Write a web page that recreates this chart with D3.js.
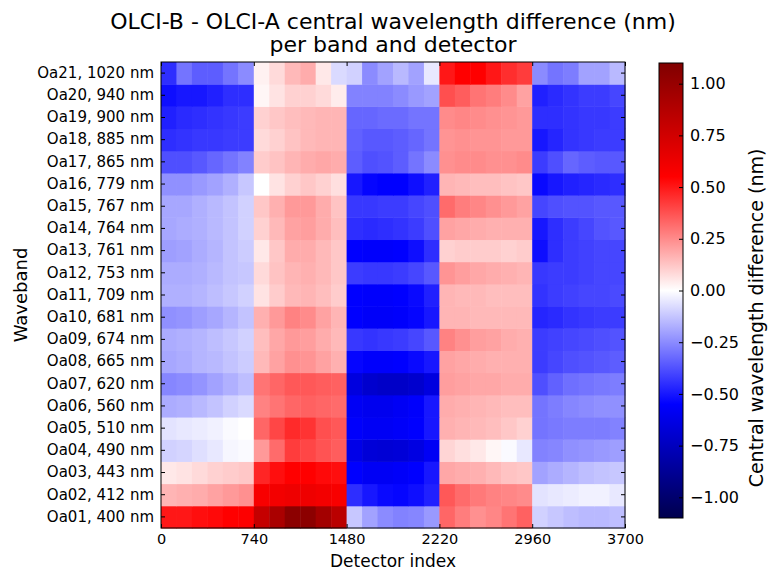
<!DOCTYPE html>
<html>
<head>
<meta charset="utf-8">
<script src="https://cdn.jsdelivr.net/npm/d3@7"></script>
<style>
  body { margin: 0; background: #fff; }
  text { font-family: "DejaVu Sans", sans-serif; fill: #000; }
</style>
</head>
<body>
<script>
// band labels, bottom (Oa01) to top (Oa21)
var bands = ["Oa01, 400 nm", "Oa02, 412 nm", "Oa03, 443 nm", "Oa04, 490 nm", "Oa05, 510 nm",
  "Oa06, 560 nm", "Oa07, 620 nm", "Oa08, 665 nm", "Oa09, 674 nm", "Oa10, 681 nm",
  "Oa11, 709 nm", "Oa12, 753 nm", "Oa13, 761 nm", "Oa14, 764 nm", "Oa15, 767 nm",
  "Oa16, 779 nm", "Oa17, 865 nm", "Oa18, 885 nm", "Oa19, 900 nm", "Oa20, 940 nm",
  "Oa21, 1020 nm"];
var xTicks = [0, 740, 1480, 2220, 2960, 3700];
var cbTicks = [-1.0, -0.75, -0.5, -0.25, 0, 0.25, 0.5, 0.75, 1.0];
var nDetectors = 3700;
var binsPerCamera = 6;

// difference (nm), 5 cameras x 6 detector bins per band, same order as bands
var diff = [
  [0.5,0.5,0.52,0.53,0.55,0.56, 0.8,0.92,1.05,1.05,0.95,0.85, -0.12,-0.2,-0.25,-0.27,-0.26,-0.22, 0.33,0.28,0.24,0.26,0.3,0.34, -0.1,-0.12,-0.14,-0.15,-0.15,-0.14],
  [0.16,0.17,0.18,0.2,0.22,0.24, 0.58,0.6,0.62,0.62,0.6,0.58, -0.45,-0.5,-0.53,-0.54,-0.52,-0.48, 0.36,0.32,0.29,0.27,0.26,0.25, -0.06,-0.05,-0.04,-0.03,-0.03,-0.05],
  [0.05,0.06,0.08,0.1,0.11,0.12, 0.47,0.52,0.55,0.55,0.53,0.52, -0.55,-0.58,-0.58,-0.57,-0.55,-0.5, 0.19,0.18,0.17,0.15,0.13,0.12, -0.2,-0.18,-0.16,-0.14,-0.13,-0.12],
  [-0.1,-0.09,-0.07,-0.05,-0.02,-0.01, 0.22,0.32,0.42,0.4,0.37,0.35, -0.62,-0.67,-0.68,-0.67,-0.64,-0.58, 0.09,0.07,0.05,0.02,-0.01,-0.05, -0.27,-0.26,-0.24,-0.23,-0.22,-0.21],
  [-0.06,-0.05,-0.04,-0.03,-0.01,0.0, 0.33,0.4,0.46,0.44,0.38,0.36, -0.56,-0.58,-0.58,-0.57,-0.55,-0.5, 0.17,0.16,0.15,0.14,0.12,0.1, -0.3,-0.29,-0.28,-0.28,-0.28,-0.27],
  [-0.18,-0.17,-0.15,-0.13,-0.1,-0.08, 0.27,0.3,0.33,0.34,0.33,0.32, -0.58,-0.6,-0.6,-0.58,-0.56,-0.5, 0.18,0.17,0.16,0.15,0.14,0.14, -0.3,-0.28,-0.26,-0.25,-0.24,-0.24],
  [-0.26,-0.25,-0.23,-0.2,-0.17,-0.14, 0.3,0.33,0.36,0.36,0.35,0.34, -0.65,-0.7,-0.72,-0.72,-0.7,-0.65, 0.21,0.2,0.19,0.19,0.18,0.18, -0.38,-0.34,-0.31,-0.3,-0.29,-0.28],
  [-0.19,-0.18,-0.16,-0.15,-0.13,-0.11, 0.15,0.2,0.24,0.23,0.2,0.17, -0.54,-0.56,-0.56,-0.55,-0.53,-0.5, 0.2,0.19,0.18,0.17,0.17,0.17, -0.42,-0.4,-0.38,-0.37,-0.36,-0.35],
  [-0.18,-0.17,-0.16,-0.14,-0.12,-0.1, 0.14,0.19,0.22,0.21,0.18,0.15, -0.43,-0.44,-0.43,-0.42,-0.4,-0.36, 0.27,0.24,0.21,0.2,0.18,0.17, -0.42,-0.41,-0.4,-0.39,-0.38,-0.37],
  [-0.24,-0.23,-0.21,-0.19,-0.16,-0.13, 0.17,0.22,0.27,0.25,0.2,0.16, -0.55,-0.57,-0.57,-0.56,-0.54,-0.5, 0.16,0.16,0.15,0.15,0.15,0.15, -0.47,-0.46,-0.44,-0.43,-0.42,-0.42],
  [-0.17,-0.17,-0.16,-0.14,-0.12,-0.1, 0.06,0.11,0.15,0.16,0.14,0.11, -0.55,-0.56,-0.56,-0.55,-0.53,-0.48, 0.16,0.15,0.15,0.14,0.14,0.14, -0.44,-0.42,-0.41,-0.4,-0.4,-0.39],
  [-0.18,-0.18,-0.17,-0.15,-0.13,-0.12, 0.08,0.13,0.16,0.17,0.15,0.12, -0.42,-0.43,-0.43,-0.42,-0.4,-0.36, 0.23,0.21,0.19,0.18,0.17,0.16, -0.43,-0.42,-0.42,-0.41,-0.4,-0.4],
  [-0.21,-0.2,-0.18,-0.16,-0.13,-0.11, 0.05,0.12,0.18,0.18,0.15,0.12, -0.55,-0.56,-0.56,-0.55,-0.52,-0.45, 0.1,0.11,0.11,0.11,0.1,0.11, -0.52,-0.45,-0.42,-0.41,-0.4,-0.4],
  [-0.19,-0.18,-0.17,-0.15,-0.13,-0.1, 0.1,0.15,0.2,0.21,0.18,0.14, -0.45,-0.46,-0.45,-0.44,-0.42,-0.38, 0.2,0.19,0.18,0.17,0.17,0.17, -0.5,-0.45,-0.42,-0.4,-0.37,-0.36],
  [-0.19,-0.19,-0.17,-0.15,-0.13,-0.1, 0.12,0.17,0.22,0.22,0.18,0.13, -0.43,-0.43,-0.42,-0.42,-0.4,-0.38, 0.32,0.28,0.26,0.24,0.22,0.2, -0.4,-0.38,-0.37,-0.37,-0.36,-0.36],
  [-0.24,-0.24,-0.22,-0.2,-0.17,-0.12, 0.0,0.06,0.1,0.12,0.1,0.07, -0.5,-0.54,-0.55,-0.55,-0.52,-0.48, 0.16,0.15,0.14,0.14,0.13,0.12, -0.53,-0.5,-0.48,-0.47,-0.46,-0.45],
  [-0.38,-0.38,-0.36,-0.33,-0.3,-0.27, 0.11,0.13,0.16,0.18,0.19,0.18, -0.35,-0.38,-0.37,-0.35,-0.3,-0.25, 0.24,0.25,0.25,0.24,0.24,0.25, -0.42,-0.38,-0.33,-0.35,-0.36,-0.36],
  [-0.45,-0.44,-0.43,-0.43,-0.42,-0.42, 0.08,0.1,0.13,0.15,0.16,0.16, -0.34,-0.36,-0.36,-0.35,-0.33,-0.3, 0.23,0.24,0.23,0.23,0.22,0.22, -0.5,-0.47,-0.44,-0.43,-0.42,-0.42],
  [-0.48,-0.46,-0.45,-0.44,-0.43,-0.42, 0.1,0.12,0.14,0.15,0.16,0.16, -0.33,-0.33,-0.32,-0.32,-0.3,-0.3, 0.25,0.26,0.25,0.24,0.23,0.22, -0.45,-0.45,-0.44,-0.43,-0.43,-0.42],
  [-0.52,-0.5,-0.5,-0.48,-0.45,-0.45, 0.02,0.06,0.1,0.1,0.08,0.04, -0.27,-0.27,-0.27,-0.25,-0.22,-0.2, 0.38,0.35,0.3,0.28,0.25,0.2, -0.48,-0.46,-0.44,-0.42,-0.42,-0.4],
  [-0.45,-0.3,-0.35,-0.35,-0.3,-0.25, 0.03,0.08,0.15,0.18,0.05,-0.08, -0.1,-0.25,-0.2,-0.15,-0.2,-0.05, 0.5,0.55,0.55,0.5,0.45,0.42, -0.25,-0.3,-0.28,-0.2,-0.2,-0.15]
];

var W = 769, H = 572;
var margin = {top: 62, left: 161, right: 144, bottom: 44};
var width = W - margin.left - margin.right,
    height = H - margin.top - margin.bottom;
var vmax = 1.1;

// matplotlib "seismic"
var color = d3.scaleLinear()
    .domain([-vmax, -vmax / 2, 0, vmax / 2, vmax])
    .range(["#00004d", "#0000ff", "#ffffff", "#ff0000", "#800000"])
    .clamp(true);

var svg = d3.select("body").append("svg")
    .attr("width", W).attr("height", H);

var x = d3.scaleLinear().domain([0, nDetectors]).range([margin.left, margin.left + width]);
var y = d3.scaleBand().domain(bands.slice().reverse()).range([margin.top, margin.top + height]);

var binW = nDetectors / 5 / binsPerCamera;
var cells = [];
diff.forEach(function(row, i){
  row.forEach(function(v, j){
    cells.push({band: bands[i], x0: j * binW, x1: (j + 1) * binW, v: v});
  });
});

svg.append("g").selectAll("rect").data(cells).enter().append("rect")
    .attr("x", function(d){ return x(d.x0); })
    .attr("y", function(d){ return y(d.band); })
    .attr("width", function(d){ return x(d.x1) - x(d.x0) + 0.5; })
    .attr("height", y.bandwidth() + 0.5)
    .attr("fill", function(d){ return color(d.v); });

// axes, classic style: inward ticks on all sides
var gy = svg.append("g").attr("transform", "translate(" + margin.left + ",0)")
    .call(d3.axisLeft(y).tickSize(-4).tickPadding(7));
gy.select(".domain").remove();
gy.selectAll("text").style("font-size", "15px");

var gyr = svg.append("g").attr("transform", "translate(" + (margin.left + width) + ",0)")
    .call(d3.axisRight(y).tickSize(-4).tickFormat(""));
gyr.select(".domain").remove();

var gx = svg.append("g").attr("transform", "translate(0," + (margin.top + height) + ")")
    .call(d3.axisBottom(x).tickValues(xTicks).tickSize(-4).tickPadding(6).tickFormat(d3.format("d")));
gx.select(".domain").remove();
gx.selectAll("text").style("font-size", "14.5px");

var gxt = svg.append("g").attr("transform", "translate(0," + margin.top + ")")
    .call(d3.axisTop(x).tickValues(xTicks).tickSize(-4).tickFormat(""));
gxt.select(".domain").remove();

svg.selectAll(".tick line").attr("stroke", "#000");

svg.append("rect")
    .attr("x", margin.left).attr("y", margin.top)
    .attr("width", width).attr("height", height)
    .attr("fill", "none").attr("stroke", "#000").attr("stroke-width", 1);

// labels
svg.append("text")
    .attr("x", margin.left + width / 2).attr("y", 29)
    .attr("text-anchor", "middle").style("font-size", "22px")
    .text("OLCI-B - OLCI-A central wavelength difference (nm)");
svg.append("text")
    .attr("x", margin.left + width / 2).attr("y", 52)
    .attr("text-anchor", "middle").style("font-size", "22px")
    .text("per band and detector");
svg.append("text")
    .attr("x", margin.left + width / 2).attr("y", 567)
    .attr("text-anchor", "middle").style("font-size", "17px")
    .text("Detector index");
svg.append("text")
    .attr("transform", "translate(27," + (margin.top + height / 2) + ") rotate(-90)")
    .attr("text-anchor", "middle").style("font-size", "18px")
    .text("Waveband");

// colorbar
var cbX = 659, cbW = 24, cbTop = 63, cbBottom = 518;
var cb = d3.scaleLinear().domain([-vmax, vmax]).range([cbBottom, cbTop]);

var grad = svg.append("defs").append("linearGradient")
    .attr("id", "cbgrad").attr("x1", 0).attr("y1", 1).attr("x2", 0).attr("y2", 0);
color.domain().forEach(function(v){
  grad.append("stop")
      .attr("offset", (v + vmax) / (2 * vmax))
      .attr("stop-color", color(v));
});

svg.append("rect")
    .attr("x", cbX).attr("y", cbTop).attr("width", cbW).attr("height", cbBottom - cbTop)
    .attr("fill", "url(#cbgrad)").attr("stroke", "#000");

var gcb = svg.append("g").attr("transform", "translate(" + (cbX + cbW) + ",0)")
    .call(d3.axisRight(cb).tickValues(cbTicks).tickSize(-4).tickPadding(7)
      .tickFormat(function(d){ return d3.format(".2f")(d).replace("-", "\u2212"); }));
gcb.select(".domain").remove();
gcb.selectAll("text").style("font-size", "16px");
gcb.selectAll(".tick line").attr("stroke", "#000");

svg.append("text")
    .attr("transform", "translate(763,318) rotate(-90)")
    .attr("text-anchor", "middle").style("font-size", "19px")
    .text("Central wavelength difference (nm)");
</script>
</body>
</html>
